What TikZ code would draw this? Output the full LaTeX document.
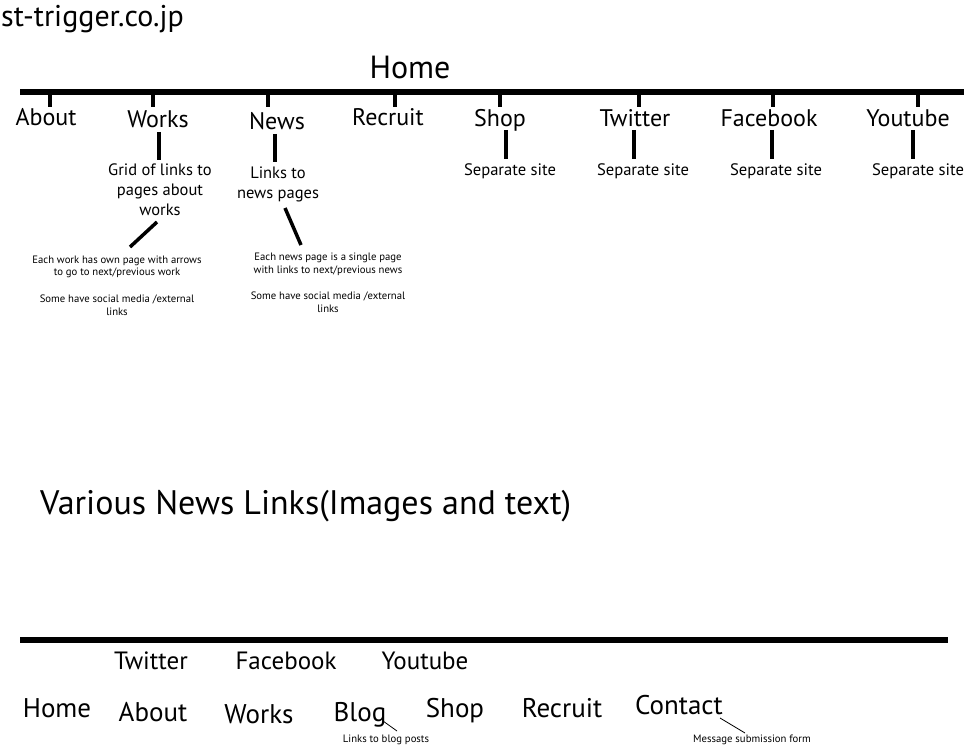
\documentclass[tikz,border=0pt]{standalone}
\usepackage{fontspec}
\setmainfont{PT Sans}
\begin{document}
\begin{tikzpicture}[x=1pt,y=-1pt,
  lbl/.style={inner sep=0pt,anchor=base,font=\fontsize{24}{28}\selectfont},
  blbl/.style={inner sep=0pt,anchor=base,font=\fontsize{27}{31}\selectfont},
  sub/.style={inner sep=0pt,anchor=base,font=\fontsize{16.6}{20}\selectfont},
  mid/.style={inner sep=0pt,anchor=base,align=center,font=\fontsize{16.5}{20}\selectfont},
  tiny/.style={inner sep=0pt,anchor=base,align=center,font=\fontsize{10.7}{13}\selectfont},
  bar/.style={line width=6pt},
  tick/.style={line width=3.5pt},
  thin/.style={line width=0.8pt}]
\useasboundingbox (0,0) rectangle (964,746);
% title
\node[inner sep=0pt,anchor=base west,font=\fontsize{30}{34}\selectfont] (site) at (1,27) {st-trigger.co.jp};
\node[inner sep=0pt,anchor=base,font=\fontsize{32}{36}\selectfont] (home) at (410,79) {Home};
% top bar
\coordinate (tl) at (20,92); \coordinate (tr) at (964,92);
\draw[bar] (tl) -- (tr);
% top labels
\node[lbl] (about) at (46,126) {About};
\node[lbl] (works) at (158,128) {Works};
\node[lbl] (news) at (277,130) {News};
\node[lbl] (recruit) at (388,126) {Recruit};
\node[lbl] (shop) at (500,127) {Shop};
\node[lbl] (twitter) at (635,127) {Twitter};
\node[lbl] (facebook) at (769,127) {Facebook};
\node[lbl] (youtube) at (908,127) {Youtube};
% ticks
\foreach \n/\x in {about/50,works/153,news/268,recruit/395,shop/500,twitter/639,facebook/773,youtube/918}{
  \coordinate (\n-t) at (\x,95);
  \coordinate (\n-b) at (\x,107);
  \draw[tick] (\n-t) -- (\n-b);
}
% separate site
\node[sub] (shopsep) at (510,176) {Separate site};
\node[sub] (twsep) at (643,176) {Separate site};
\node[sub] (fbsep) at (776,176) {Separate site};
\node[sub] (ytsep) at (918,176) {Separate site};
\foreach \n/\x in {shop/506,twitter/634,facebook/772,youtube/913}{
  \coordinate (\n-s1) at (\x,130);
  \coordinate (\n-s2) at (\x,159);
  \draw[tick] (\n-s1) -- (\n-s2);
}
% works / news sub
\node[mid] (grid) at (160,216) {Grid of links to\\pages about\\works};
\node[mid] (nlinks) at (278,199) {Links to\\news pages};
\coordinate (w1) at (159,132); \coordinate (w2) at (159,160);
\draw[tick] (w1) -- (w2);
\coordinate (n1) at (275,134); \coordinate (n2) at (275,162);
\draw[tick] (n1) -- (n2);
% diagonals
\coordinate (wd1) at (157,222); \coordinate (wd2) at (130,247);
\draw[tick] (wd1) -- (wd2);
\coordinate (nd1) at (285,208); \coordinate (nd2) at (301,245);
\draw[tick] (nd1) -- (nd2);
% small texts
\node[tiny] (wtxt1) at (117,276) {Each work has own page with arrows\\to go to next/previous work};
\node[tiny] (wtxt2) at (117,315) {Some have social media /external\\links};
\node[tiny] (ntxt1) at (328,273) {Each news page is a single page\\with links to next/previous news};
\node[tiny] (ntxt2) at (328,312) {Some have social media /external\\links};
% middle
\node[inner sep=0pt,anchor=base west,font=\fontsize{34}{38}\selectfont] (various) at (40,514) {Various News Links(Images and text)};
% bottom bar
\coordinate (bl) at (20,640); \coordinate (br) at (948,640);
\draw[bar] (bl) -- (br);
\node[inner sep=0pt,anchor=base,font=\fontsize{25}{29}\selectfont] (btw) at (151,669) {Twitter};
\node[inner sep=0pt,anchor=base,font=\fontsize{25}{29}\selectfont] (bfb) at (286,669) {Facebook};
\node[inner sep=0pt,anchor=base,font=\fontsize{25}{29}\selectfont] (byt) at (425,669) {Youtube};
\node[blbl] (bhome) at (57,717) {Home};
\node[blbl] (babout) at (153,721) {About};
\node[blbl] (bworks) at (259,723) {Works};
\node[blbl] (bblog) at (360,721) {Blog};
\node[blbl] (bshop) at (455,717) {Shop};
\node[blbl] (brecruit) at (562,717) {Recruit};
\node[blbl] (bcontact) at (679,714) {Contact};
\node[tiny] (blogtxt) at (386,742) {Links to blog posts};
\node[tiny] (msgtxt) at (752,742.5) {Message submission form};
\coordinate (bg1) at (383,721); \coordinate (bg2) at (397,731);
\draw[thin] (bg1) -- (bg2);
\coordinate (ct1) at (720,718); \coordinate (ct2) at (745,733);
\draw[thin] (ct1) -- (ct2);
\end{tikzpicture}
\end{document}
